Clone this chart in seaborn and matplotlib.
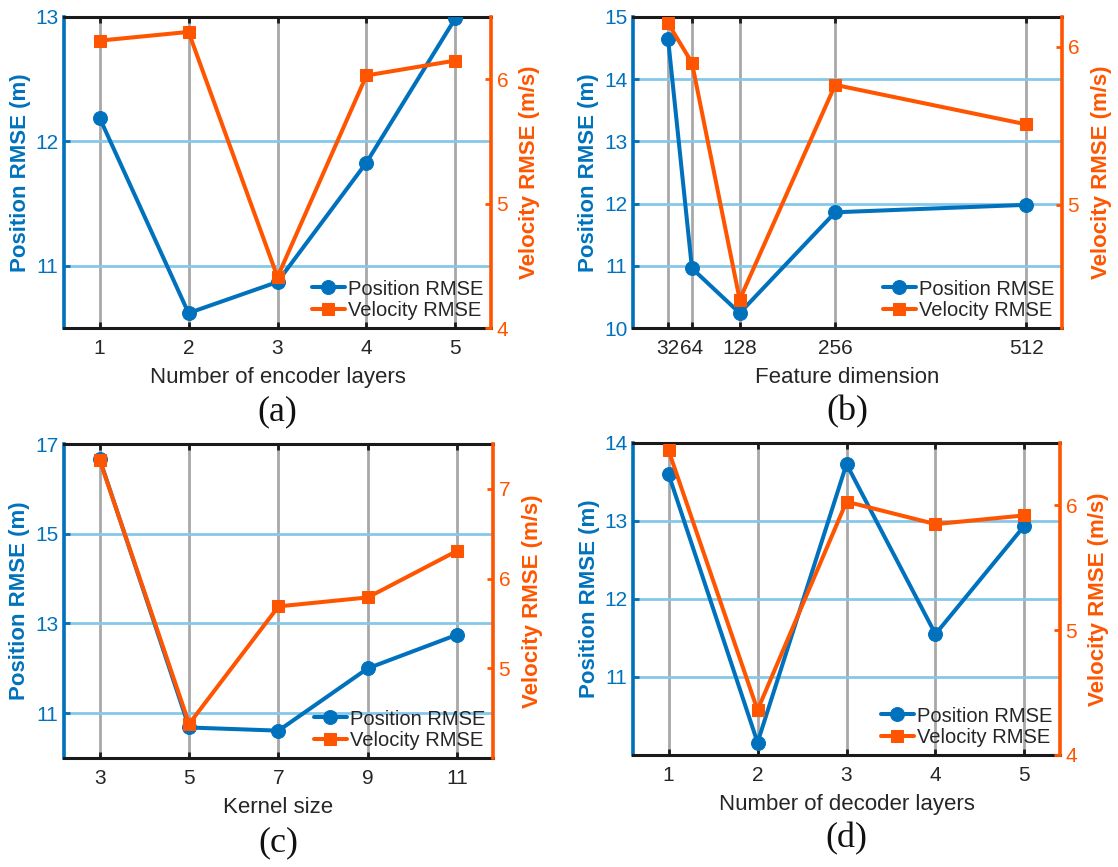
import numpy as np
import pandas as pd
import matplotlib
matplotlib.use("Agg")
import matplotlib.pyplot as plt
import seaborn as sns

sns.set_theme(style="white")
plt.rcParams['font.family'] = ['Liberation Sans', 'DejaVu Sans']

# ---------------- data ----------------
enc_layers = [1, 2, 3, 4, 5]
enc_pos = [12.19, 10.62, 10.87, 11.83, 12.99]
enc_vel = [6.31, 6.38, 4.41, 6.03, 6.15]

feat_dim = [32, 64, 128, 256, 512]
feat_pos = [14.65, 10.96, 10.24, 11.86, 11.98]
feat_vel = [6.15, 5.90, 4.40, 5.76, 5.51]

kernel = [3, 5, 7, 9, 11]
ker_pos = [16.66, 10.68, 10.61, 12.00, 12.75]
ker_vel = [7.32, 4.38, 5.69, 5.79, 6.31]

dec_layers = [1, 2, 3, 4, 5]
dec_pos = [13.60, 10.16, 13.73, 11.55, 12.94]
dec_vel = [6.44, 4.36, 6.03, 5.85, 5.92]

xlabels = ["Number of encoder layers", "Feature dimension", "Kernel size", "Number of decoder layers"]
captions = ["(a)", "(b)", "(c)", "(d)"]

BLUE = "#0072BD"
ORANGE = "#FF5500"
GRID_V = "#A8A8A8"
GRID_H = "#85C8EA"

W, H = 1118, 867
fig = plt.figure(figsize=(W / 100, H / 100), dpi=100)

def rect(l, r, t, b):
    return [l / W, 1 - b / H, (r - l) / W, (b - t) / H]

panels = [
    dict(rect=rect(64, 491, 17, 328), x=enc_layers, p=enc_pos, v=enc_vel,
         xlim=(0.6, 5.4), ylim=(10.5, 13), yt=[11, 12, 13], y2lim=(4, 6.5), y2t=[4, 5, 6]),
    dict(rect=rect(633, 1062, 17, 328), x=feat_dim, p=feat_pos, v=feat_vel,
         xlim=(-15, 560), ylim=(10, 15), yt=[10, 11, 12, 13, 14, 15], y2lim=(4.22, 6.19), y2t=[5, 6]),
    dict(rect=rect(64, 493, 444, 758), x=kernel, p=ker_pos, v=ker_vel,
         xlim=(2.2, 11.8), ylim=(10, 17), yt=[11, 13, 15, 17], y2lim=(4.0, 7.5), y2t=[5, 6, 7]),
    dict(rect=rect(633, 1060, 443, 755), x=dec_layers, p=dec_pos, v=dec_vel,
         xlim=(0.6, 5.4), ylim=(10, 14), yt=[11, 12, 13, 14], y2lim=(4, 6.5), y2t=[4, 5, 6]),
]

for i, pnl in enumerate(panels):
    ax = fig.add_axes(pnl['rect'])
    df = pd.DataFrame({'x': pnl['x'], 'pos': pnl['p'], 'vel': pnl['v']})

    sns.lineplot(data=df, x='x', y='pos', ax=ax, color=BLUE, lw=2.9,
                 marker='o', markersize=10, markeredgecolor=BLUE, legend=False, zorder=5)
    ax.lines[-1].set_label("Position RMSE")
    ax.set_xlim(*pnl['xlim'])
    ax.set_ylim(*pnl['ylim'])
    ax.set_xticks(pnl['x'])
    ax.set_xticklabels([str(v) for v in pnl['x']])
    ax.set_yticks(pnl['yt'])

    # grids
    ax.set_axisbelow(True)
    ax.grid(axis='x', color=GRID_V, lw=2.0)
    ax.grid(axis='y', color=GRID_H, lw=2.0)

    ax2 = ax.twinx()
    sns.lineplot(data=df, x='x', y='vel', ax=ax2, color=ORANGE, lw=2.9,
                 marker='s', markersize=8, markeredgecolor=ORANGE, legend=False)
    ax2.lines[-1].set_label("Velocity RMSE")
    ax2.set_ylim(*pnl['y2lim'])
    ax2.set_yticks(pnl['y2t'])
    ax2.grid(False)

    # spines
    for s in ['top', 'bottom']:
        ax.spines[s].set_color('#1a1a1a')
        ax.spines[s].set_linewidth(2.2)
        ax2.spines[s].set_visible(False)
    ax.spines['left'].set_color(BLUE)
    ax.spines['left'].set_linewidth(2.6)
    ax.spines['right'].set_visible(False)
    ax2.spines['left'].set_visible(False)
    ax2.spines['right'].set_color(ORANGE)
    ax2.spines['right'].set_linewidth(2.6)

    ax.tick_params(axis='x', direction='in', top=True, bottom=True, length=4, width=2,
                   color='#1a1a1a', labelcolor='#262626', labelsize=15, pad=8)
    ax.tick_params(axis='y', direction='in', left=True, length=4, width=2,
                   color=BLUE, labelcolor=BLUE, labelsize=15, pad=4)
    ax2.tick_params(axis='y', direction='in', right=True, length=4, width=2,
                    color=ORANGE, labelcolor=ORANGE, labelsize=15, pad=4)

    ax.set_xlabel(xlabels[i], fontsize=16, color='#262626')
    ax.xaxis.label.set_va('center')
    ax.xaxis.set_label_coords(0.5, -0.158)
    ax.set_ylabel("Position RMSE (m)", fontsize=16, fontweight='bold', color=BLUE)
    ax.yaxis.label.set_va('center')
    ax.yaxis.set_label_coords(-0.103, 0.5)
    ax2.set_ylabel("Velocity RMSE (m/s)", fontsize=16, fontweight='bold', color=ORANGE, rotation=90)
    ax2.yaxis.label.set_va('center')
    ax2.yaxis.set_label_coords(1.091, 0.5)

    ax.text(0.5, -0.27, captions[i], transform=ax.transAxes, ha='center', va='center',
            fontsize=26, family=['Liberation Serif', 'DejaVu Serif'], color='#111111')

    h1, l1 = ax.get_legend_handles_labels()
    h2, l2 = ax2.get_legend_handles_labels()
    ax2.legend(h1 + h2, l1 + l2, loc='lower right', frameon=False, fontsize=14.5,
               handlelength=1.6, handletextpad=0.15, labelspacing=0.12,
               borderaxespad=0.2, borderpad=0.2)

fig.savefig("out.png", dpi=100)
